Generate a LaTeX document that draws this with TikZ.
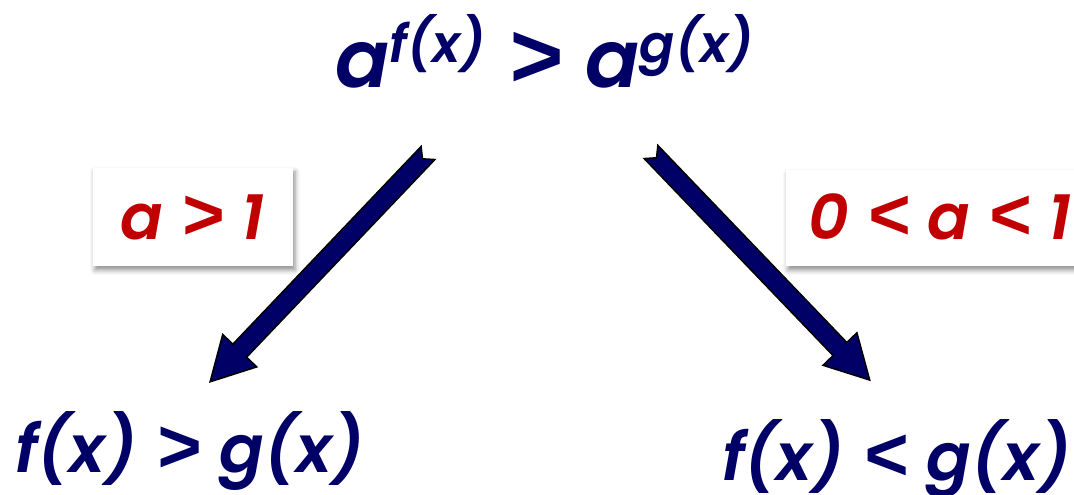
\documentclass[tikz,border=0pt]{standalone}
\usepackage{fontspec}
\setmainfont{Poppins}[BoldFont=* SemiBold, BoldItalicFont=* SemiBold Italic]
\newfontfamily\symf{Liberation Sans}
\usetikzlibrary{shadows.blur}
\definecolor{navy}{HTML}{000066}
\definecolor{redlab}{HTML}{C00000}
\tikzset{
  navytext/.style={text=navy, inner sep=0pt, font=\fontsize{66}{66}\selectfont\bfseries\itshape},
  labtext/.style={text=redlab, inner sep=0pt, font=\fontsize{63}{63}\selectfont\bfseries\itshape},
  labbox/.style={fill=white, draw=none, blur shadow={shadow xshift=2pt, shadow yshift=-4pt, shadow blur radius=5pt, shadow opacity=45}},
  blockarrow/.style={fill=navy, draw=black, line width=1.5pt, line join=miter}
}
\newcommand{\supx}[1]{\raisebox{25pt}{\fontsize{52}{52}\selectfont #1}}
\newcommand{\gtr}{\hspace{0.02em}\scalebox{1.15}{\symf\bfseries\itshape >}\hspace{0.02em}}
\newcommand{\lss}{\hspace{0.02em}\scalebox{1.15}{\symf\bfseries\itshape <}\hspace{0.02em}}
\begin{document}
\begin{tikzpicture}[x=1pt,y=1pt]
\useasboundingbox (0,0) rectangle (1074,495);
% label boxes
\node[labbox, minimum width=200pt, minimum height=98pt] (lbox) at (193,278) {};
\node[labbox, minimum width=296pt, minimum height=96pt] (rbox) at (934,277) {};
\node[labtext, anchor=base west] (llab) at (120,255) {a \gtr{} 1};
\node[labtext, anchor=base west] (rlab) at (808,255) {0 \lss{} a \lss{} 1};
% texts
\node[navytext, anchor=base west, font=\fontsize{80}{80}\selectfont\bfseries\itshape] (top) at (335,407) {a\supx{f(x)} \gtr{} a\supx{g(x)}};
\node[navytext, anchor=base west] (bl) at (15,22) {f(x) \gtr{} g(x)};
\node[navytext, anchor=base west] (br) at (722,14) {f(x) \lss{} g(x)};
% arrows
\coordinate (lt) at (428,342);
\coordinate (lh) at (210,113);
\coordinate (rt) at (651,343);
\coordinate (rh) at (870,115);
\begin{scope}[shift={(lt)}, rotate=226.4]
\draw[blockarrow] (0,9.5) -- (273,9.5) -- (273,23.5) -- (316,0) -- (273,-23.5) -- (273,-9.5) -- (0,-9.5) -- (8,0) -- cycle;
\end{scope}
\begin{scope}[shift={(rt)}, rotate=-46.2]
\draw[blockarrow] (0,9.5) -- (273,9.5) -- (273,23.5) -- (316,0) -- (273,-23.5) -- (273,-9.5) -- (0,-9.5) -- (8,0) -- cycle;
\end{scope}
\end{tikzpicture}
\end{document}
